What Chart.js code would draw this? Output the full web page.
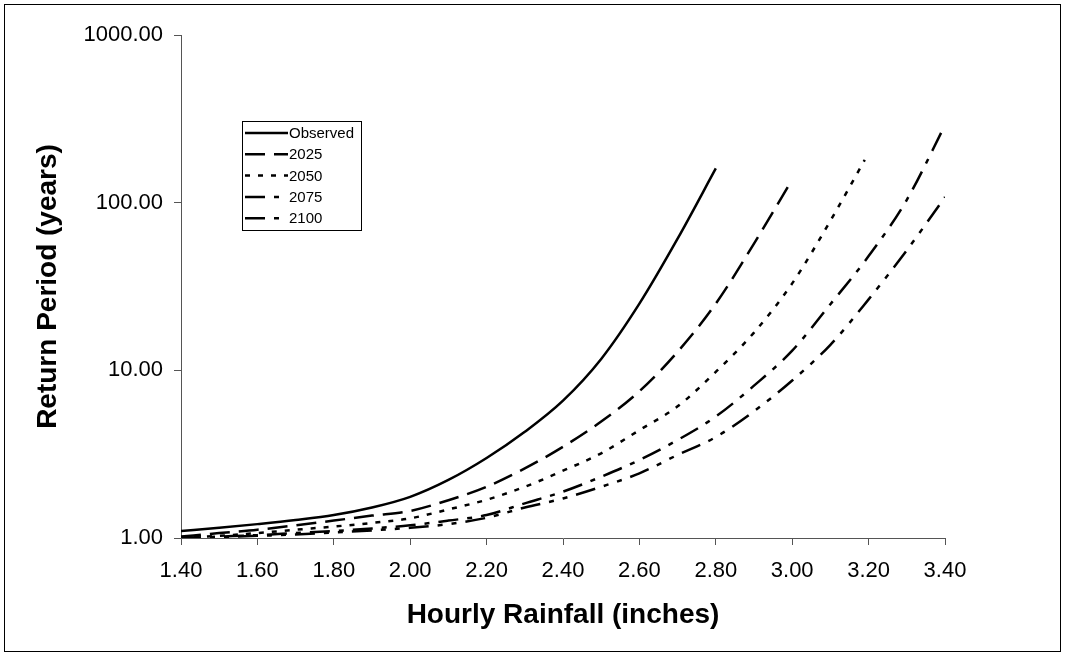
<!DOCTYPE html>
<html><head><meta charset="utf-8">
<script src="https://cdn.jsdelivr.net/npm/chart.js@4.4.1/dist/chart.umd.min.js"></script>
<style>html,body{margin:0;padding:0;background:#fff;} canvas{display:block;}</style>
</head><body>
<canvas id="c" width="1065" height="655"></canvas>
<script>
// ---- data ----
const rainfall = [1.4,1.5,1.6,1.7,1.8,1.9,2.0,2.1,2.2,2.3,2.4,2.5,2.6,2.7,2.8,2.9,3.0,3.1,3.2,3.3,3.4];
const rainfall2050 = [1.4,1.5,1.6,1.7,1.8,1.9,2.0,2.1,2.2,2.3,2.4,2.5,2.6,2.7,2.8,2.9,3.0,3.1,3.19];
const seriesNames = ['Observed','2025','2050','2075','2100'];
const observed = [1.10,1.15,1.21,1.28,1.37,1.52,1.76,2.22,3.0,4.3,6.6,11.7,25,61,160];
const y2025 = [1.02,1.07,1.12,1.19,1.27,1.36,1.45,1.68,2.02,2.6,3.5,4.95,7.5,12.9,25,57,137];
const y2050 = [1.0,1.03,1.07,1.12,1.17,1.23,1.31,1.48,1.69,2.02,2.52,3.2,4.4,6.1,9.8,16.8,33,78,180];
const y2075 = [1.0,1.02,1.04,1.07,1.10,1.14,1.19,1.27,1.37,1.61,1.89,2.32,2.92,3.84,5.3,8.1,13.1,24.8,48,104,290];
const y2100 = [1.0,1.01,1.03,1.05,1.08,1.11,1.15,1.21,1.32,1.52,1.72,2.02,2.43,3.13,4.0,5.7,8.7,14.2,26.5,52,108];
const xTicks = [1.4,1.6,1.8,2.0,2.2,2.4,2.6,2.8,3.0,3.2,3.4];
const yTicks = [1,10,100,1000];
const xTitle = 'Hourly Rainfall (inches)';
const yTitle = 'Return Period (years)';

const FONT = "'Liberation Sans', Arial, sans-serif";
const pts = (xs, ys) => ys.map((y, i) => ({x: xs[i], y: y}));
const dashes = [[], [20,9], [5,8], [20,9,5,9], [20,9,5,9,5,9]];
const seriesData = [pts(rainfall, observed), pts(rainfall, y2025), pts(rainfall2050, y2050), pts(rainfall, y2075), pts(rainfall, y2100)];

const datasets = seriesNames.map((n, i) => ({
  label: n,
  data: seriesData[i],
  borderColor: '#000',
  backgroundColor: '#000',
  borderWidth: 2.5,
  borderDash: dashes[i],
  pointRadius: 0,
  fill: false,
  cubicInterpolationMode: 'monotone'
}));

const framePlugin = {
  id: 'frameLegend',
  afterDraw(chart) {
    const ctx = chart.ctx;
    ctx.save();
    ctx.strokeStyle = '#000';
    ctx.lineWidth = 1;
    ctx.setLineDash([]);
    ctx.strokeRect(4.5, 4.5, 1056, 647);
    // legend box
    const bx = 242, by = 121, bw = 119, bh = 109;
    ctx.fillStyle = '#fff';
    ctx.fillRect(bx, by, bw, bh);
    ctx.strokeRect(bx + 0.5, by + 0.5, bw, bh);
    ctx.font = '15px ' + FONT;
    ctx.textBaseline = 'middle';
    ctx.textAlign = 'left';
    chart.data.datasets.forEach((ds, i) => {
      const y = 133 + i * 21.3;
      ctx.beginPath();
      ctx.setLineDash(ds.borderDash || []);
      ctx.lineWidth = 2.5;
      ctx.moveTo(245, y);
      ctx.lineTo(288, y);
      ctx.stroke();
      ctx.setLineDash([]);
      ctx.fillStyle = '#000';
      ctx.fillText(ds.label, 289, y + 1);
    });
    ctx.restore();
  }
};

new Chart(document.getElementById('c'), {
  type: 'line',
  data: { datasets: datasets },
  options: {
    responsive: false,
    animation: false,
    devicePixelRatio: 1,
    layout: { padding: { left: 0, top: 35, right: 120, bottom: 0 } },
    plugins: { legend: { display: false }, tooltip: { enabled: false } },
    scales: {
      x: {
        type: 'linear', min: 1.4, max: 3.4,
        afterBuildTicks: s => { s.ticks = xTicks.map(v => ({value: v})); },
        afterFit: s => { s.height = 117; },
        ticks: { color: '#000', font: { family: FONT, size: 22 }, padding: 13, maxRotation: 0, autoSkip: false,
                 callback: v => Number(v).toFixed(2) },
        grid: { display: true, drawOnChartArea: false, drawTicks: true, tickLength: 7, color: '#555' },
        border: { display: true, color: '#555', width: 1 },
        title: { display: true, text: xTitle, color: '#000', font: { family: FONT, size: 28, weight: 'bold' }, padding: { top: 0, bottom: 23 } }
      },
      y: {
        type: 'logarithmic', min: 1, max: 1000,
        afterBuildTicks: s => { s.ticks = yTicks.map(v => ({value: v})); },
        afterFit: s => { s.width = 181; },
        ticks: { color: '#000', font: { family: FONT, size: 22 }, padding: 11, autoSkip: false,
                 callback: v => Number(v).toFixed(2) },
        grid: { display: true, drawOnChartArea: false, drawTicks: true, tickLength: 7, color: '#555' },
        border: { display: true, color: '#555', width: 1 },
        title: { display: true, text: yTitle, color: '#000', font: { family: FONT, size: 28, weight: 'bold' }, padding: { top: 31, bottom: 0 } }
      }
    }
  },
  plugins: [framePlugin]
});
</script></body></html>
